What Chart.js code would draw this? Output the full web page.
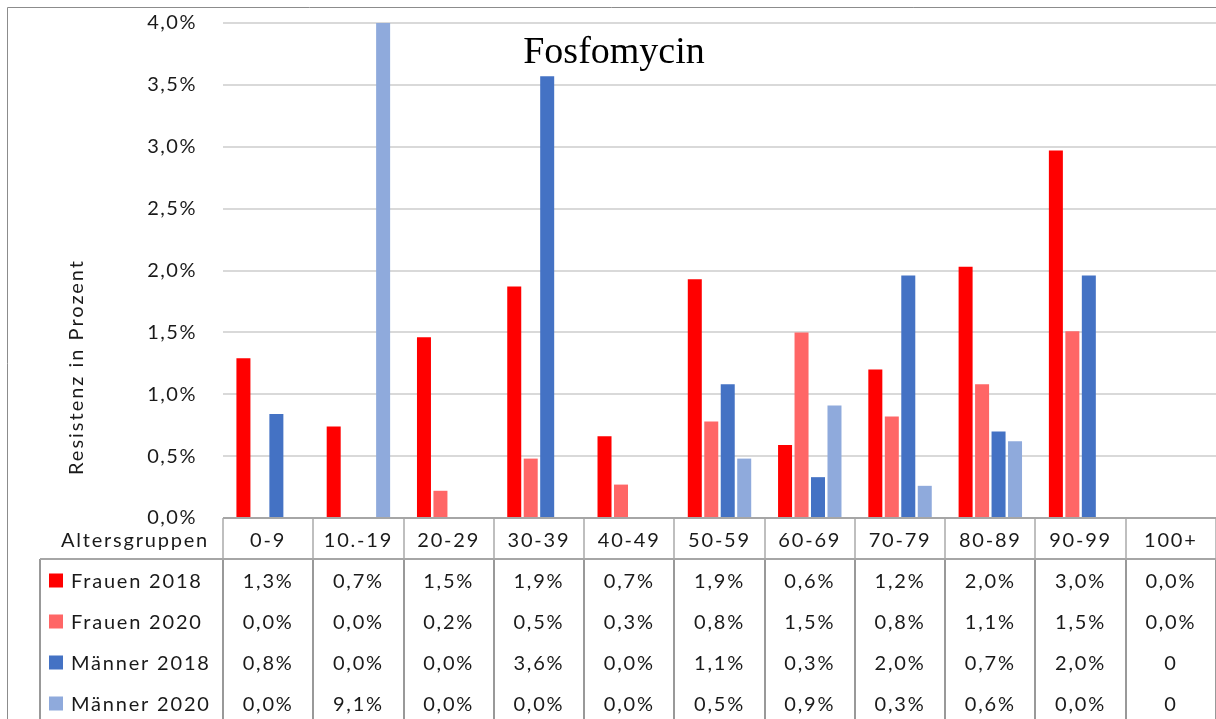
<!DOCTYPE html>
<html>
<head>
<meta charset="utf-8">
<script src="https://cdn.jsdelivr.net/npm/chart.js@4"></script>
<style>
  body { margin: 0; background: #fff; }
  canvas { display: block; }
</style>
</head>
<body>
<canvas id="chart" width="1216" height="719"></canvas>
<script>
const ageGroups = ['0-9', '10.-19', '20-29', '30-39', '40-49', '50-59', '60-69', '70-79', '80-89', '90-99', '100+'];
const frauen2018 = [1.29, 0.74, 1.46, 1.87, 0.66, 1.93, 0.59, 1.20, 2.03, 2.97, 0];
const frauen2020 = [0, 0, 0.22, 0.48, 0.27, 0.78, 1.50, 0.82, 1.08, 1.51, 0];
const maenner2018 = [0.84, 0, 0, 3.57, 0, 1.08, 0.33, 1.96, 0.70, 1.96, null];
const maenner2020 = [0, 9.1, 0, 0, 0, 0.48, 0.91, 0.26, 0.62, 0, null];
const yMax = 4;
const yStep = 0.5;

const font = 'Lato';
const textColor = '#1a1a1a';

function fmt(v) {
    if (v === null) return '0';
    return v.toFixed(1).replace('.', ',') + '%';
}

// wider letter spacing, like the original's text
const spacingPlugin = {
    id: 'spacing',
    beforeDraw(chart) {
        chart.ctx.letterSpacing = '1.5px';
    }
};

// Data table, y title and frame drawn under the chart area
const tablePlugin = {
    id: 'dataTable',
    afterDraw(chart) {
        const { ctx, chartArea, scales: { x } } = chart;
        const top = chartArea.bottom;
        const rowH = 41;
        const headBottom = top + rowH;
        const colW = (chartArea.right - chartArea.left) / ageGroups.length;
        const W = chart.width, H = chart.height;

        ctx.save();

        // outer frame
        ctx.strokeStyle = '#8c8c8c';
        ctx.lineWidth = 1;
        ctx.beginPath();
        ctx.moveTo(7.5, H); ctx.lineTo(7.5, 7.5); ctx.lineTo(W, 7.5);
        ctx.stroke();

        // header row verticals
        ctx.strokeStyle = '#bfbfbf';
        ctx.lineWidth = 2;
        ctx.beginPath();
        for (let i = 0; i <= ageGroups.length; i++) {
            const px = Math.round(chartArea.left + i * colW);
            ctx.moveTo(px, top); ctx.lineTo(px, headBottom);
        }
        ctx.stroke();

        // data row verticals
        ctx.strokeStyle = '#999999';
        ctx.beginPath();
        ctx.moveTo(40, headBottom); ctx.lineTo(40, H);
        for (let i = 0; i <= ageGroups.length; i++) {
            const px = Math.round(chartArea.left + i * colW);
            ctx.moveTo(px, headBottom); ctx.lineTo(px, H);
        }
        ctx.stroke();

        // horizontal lines
        ctx.strokeStyle = '#a6a6a6';
        ctx.beginPath();
        ctx.moveTo(chartArea.left, top); ctx.lineTo(W, top);
        ctx.moveTo(40, headBottom); ctx.lineTo(W, headBottom);
        ctx.stroke();

        ctx.fillStyle = textColor;
        ctx.font = '20px ' + font;
        ctx.letterSpacing = '1.8px';
        ctx.textBaseline = 'middle';

        // header
        ctx.textAlign = 'right';
        ctx.fillText('Altersgruppen', 209, top + rowH / 2 + 2);
        ctx.textAlign = 'center';
        ageGroups.forEach((g, i) => {
            ctx.fillText(g, x.getPixelForValue(i), top + rowH / 2 + 2);
        });

        // rows
        chart.data.datasets.forEach((ds, r) => {
            const cy = headBottom + r * rowH + rowH / 2 + 2;
            ctx.fillStyle = ds.backgroundColor;
            ctx.fillRect(49, cy - 8, 14, 14);
            ctx.fillStyle = textColor;
            ctx.textAlign = 'left';
            ctx.fillText(ds.label, 71, cy);
            ctx.textAlign = 'center';
            ds.data.forEach((v, i) => {
                ctx.fillText(fmt(v), x.getPixelForValue(i), cy);
            });
        });

        // y axis title
        ctx.save();
        ctx.translate(77, 367);
        ctx.rotate(-Math.PI / 2);
        ctx.textAlign = 'center';
        ctx.font = '20px ' + font;
        ctx.letterSpacing = '2px';
        ctx.fillText('Resistenz in Prozent', 0, 0);
        ctx.restore();

        // chart title
        ctx.font = '38px "Liberation Serif"';
        ctx.letterSpacing = '0px';
        ctx.textAlign = 'center';
        ctx.textBaseline = 'alphabetic';
        ctx.fillStyle = '#000';
        ctx.fillText('Fosfomycin', 614, 63);

        ctx.restore();
    }
};

new Chart(document.getElementById('chart'), {
    type: 'bar',
    data: {
        labels: ageGroups,
        datasets: [
            { label: 'Frauen 2018', data: frauen2018, backgroundColor: '#ff0000' },
            { label: 'Frauen 2020', data: frauen2020, backgroundColor: '#ff6666' },
            { label: 'Männer 2018', data: maenner2018, backgroundColor: '#4472c4' },
            { label: 'Männer 2020', data: maenner2020, backgroundColor: '#8faadc' }
        ]
    },
    options: {
        responsive: false,
        animation: false,
        datasets: {
            bar: { categoryPercentage: 0.73, barPercentage: 0.85 }
        },
        layout: { padding: { top: 23, right: 0, bottom: 201, left: 0 } },
        plugins: {
            legend: { display: false },
            tooltip: { enabled: false },
            title: { display: false }
        },
        scales: {
            x: { display: false },
            y: {
                min: 0,
                max: yMax,
                afterFit: scale => {
                    scale.width = 223;
                    scale.paddingTop = 12;
                    scale.paddingBottom = 12;
                },
                grid: { color: '#d9d9d9', lineWidth: 2, drawTicks: false },
                border: { display: false },
                ticks: {
                    stepSize: yStep,
                    padding: 26,
                    color: textColor,
                    font: { family: font, size: 20 },
                    callback: v => v.toFixed(1).replace('.', ',') + '%'
                }
            }
        }
    },
    plugins: [spacingPlugin, tablePlugin]
});
</script>
</body>
</html>
